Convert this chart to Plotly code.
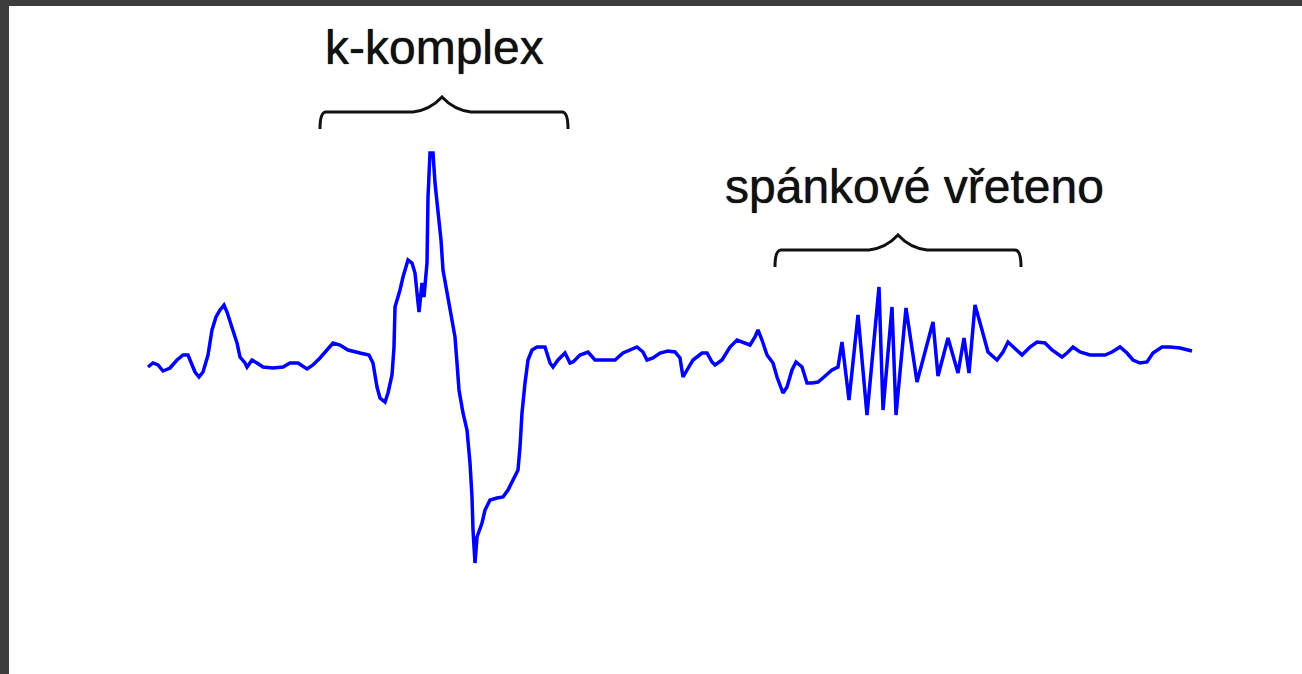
import plotly.graph_objects as go

# EEG trace: sample positions and amplitudes
t = [148, 153, 158, 163, 170, 177, 183, 188, 195, 199, 203, 208, 212, 216, 220, 224, 227, 232, 237, 240,
     245, 247, 252, 257, 263, 273, 283, 290, 298, 307, 313, 320, 327, 333, 340, 348, 360, 369, 373, 377,
     380, 385, 388, 392, 394, 395, 400, 403, 408, 412, 415, 419, 422, 424, 427, 428, 430, 433, 435, 438,
     441, 443, 447, 452, 455, 457, 459, 463, 467, 470, 472, 473, 475, 477, 482, 485, 490, 497, 503, 508,
     513, 518, 520, 522, 525, 528, 532, 537, 545, 550, 553, 558, 565, 570, 573, 580, 588, 595, 603, 615,
     623, 632, 637, 643, 647, 653, 660, 668, 675, 680, 683, 687, 693, 702, 707, 712, 715, 722, 730, 737,
     743, 750, 755, 758, 762, 767, 773, 777, 783, 787, 792, 796, 802, 807, 812, 818, 824, 832, 838, 842,
     849, 858, 867, 879, 883, 892, 896, 906, 917, 933, 938, 948, 958, 964, 969, 975, 982, 988, 997, 1003,
     1008, 1013, 1022, 1030, 1037, 1045, 1052, 1062, 1067, 1073, 1080, 1090, 1105, 1112, 1120, 1127, 1133,
     1140, 1147, 1153, 1162, 1170, 1180, 1192]

y_px = [367, 363, 365, 371, 368, 360, 355, 355, 372, 377, 372, 355, 330, 317, 310, 305, 312, 327, 343, 357,
        363, 367, 360, 363, 367, 368, 367, 363, 363, 369, 365, 358, 350, 343, 345, 350, 353, 355, 363, 387,
        398, 402, 393, 375, 347, 307, 290, 277, 260, 263, 273, 312, 283, 297, 263, 197, 153, 153, 183, 210,
        240, 270, 293, 317, 337, 363, 390, 413, 430, 463, 497, 530, 563, 537, 523, 510, 500, 498, 497, 490,
        480, 470, 447, 413, 383, 360, 350, 347, 347, 363, 367, 360, 353, 363, 362, 355, 352, 360, 360, 360,
        353, 349, 347, 352, 360, 358, 353, 351, 352, 358, 377, 370, 360, 353, 353, 362, 365, 360, 347, 340,
        342, 345, 337, 330, 340, 355, 363, 377, 393, 387, 370, 362, 367, 383, 383, 382, 377, 370, 367, 342,
        400, 315, 415, 287, 410, 307, 415, 308, 382, 322, 376, 338, 373, 338, 373, 305, 330, 352, 360, 352,
        342, 347, 355, 347, 342, 343, 350, 357, 353, 347, 352, 355, 355, 352, 347, 353, 360,
        363, 362, 353, 347, 347, 348, 351]

BASE = 365
amp = [BASE - v for v in y_px]

# Labels and brace spans
labels = ["k-komplex", "spánkové vřeteno"]
label_x = [434, 914]
label_level = [318, 179]
brace_start = [320, 775]
brace_end = [568, 1021]
brace_peak = [442, 898]
brace_level = [253, 115]

fig = go.Figure()
fig.add_trace(go.Scatter(x=t, y=amp, mode="lines",
                         line=dict(color="#0000ff", width=3.5), hoverinfo="skip"))

shapes = []
for x0, x1, xp, lv in zip(brace_start, brace_end, brace_peak, brace_level):
    tip = lv - 17
    top = lv + 15
    hw = 29
    r = 6
    path = (f"M {x0},{tip} Q {x0},{lv} {x0 + r},{lv} "
            f"L {xp - hw},{lv} Q {xp - 12},{lv + 2} {xp},{top} "
            f"Q {xp + 12},{lv + 2} {xp + hw},{lv} "
            f"L {x1 - r},{lv} Q {x1},{lv} {x1},{tip}")
    shapes.append(dict(type="path", path=path, xref="x", yref="y",
                       line=dict(color="#111111", width=3)))

annotations = []
for txt, lx, ly in zip(labels, label_x, label_level):
    annotations.append(dict(x=lx, y=ly, xref="x", yref="y", text=txt, showarrow=False,
                            xanchor="center", yanchor="middle",
                            font=dict(family="Liberation Sans, Arial, sans-serif", size=48,
                                      color="#111111",
                                      shadow="0px 0px 1px #111111")))

fig.update_layout(
    width=1302, height=674,
    paper_bgcolor="#3d3d3d", plot_bgcolor="#ffffff",
    margin=dict(l=9, r=0, t=6, b=0, autoexpand=False),
    showlegend=False,
    shapes=shapes, annotations=annotations,
    xaxis=dict(range=[9, 1302], visible=False, fixedrange=True),
    yaxis=dict(range=[BASE - 674, BASE - 6], visible=False, fixedrange=True),
)

fig.write_html("out.html", config={"displayModeBar": False},
               post_script="document.body.style.margin='0';document.body.style.overflow='hidden';")
